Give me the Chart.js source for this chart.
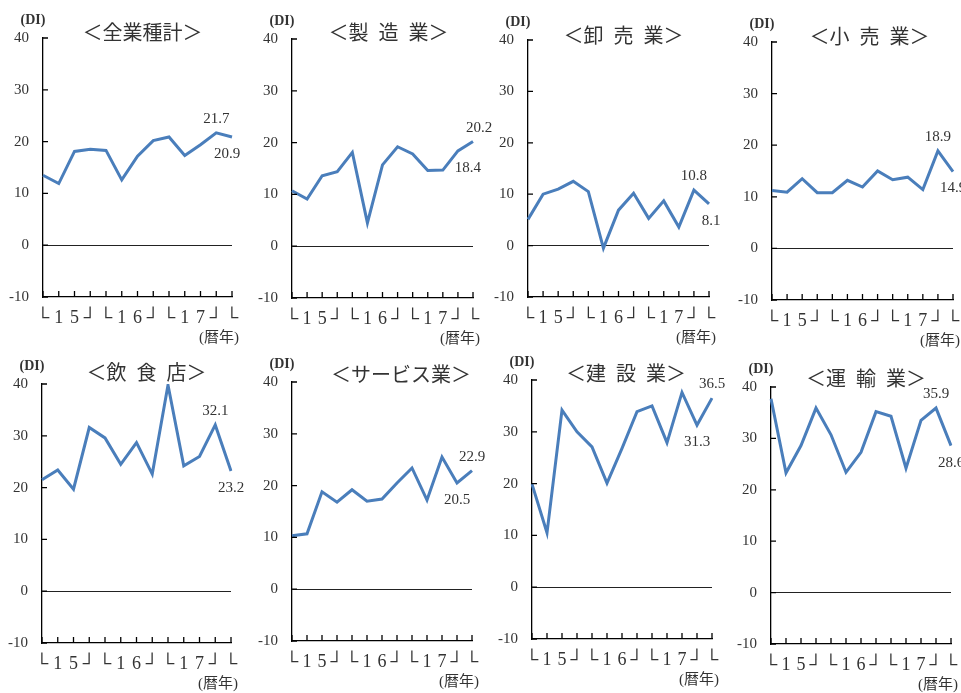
<!DOCTYPE html>
<html lang="ja">
<head>
<meta charset="utf-8">
<title>業種別DI</title>
<script src="https://cdn.jsdelivr.net/npm/chart.js@4"></script>
<style>
  html, body { margin: 0; padding: 0; background: #fff; }
  body { width: 961px; height: 693px; position: relative; overflow: hidden; }
  canvas { position: absolute; }
</style>
</head>
<body>
<script>
// --- data ---
const xLabels = ['└', '1', '5', '┘', '└', '1', '6', '┘', '└', '1', '7', '┘', '└'];
const allIndustries = [13.5, 11.9, 18.1, 18.5, 18.3, 12.6, 17.2, 20.2, 20.9, 17.3, 19.4, 21.7, 20.9];
const manufacturing = [10.7, 9.1, 13.6, 14.4, 18.1, 4.5, 15.7, 19.2, 17.8, 14.6, 14.7, 18.4, 20.2];
const wholesale = [5.1, 10.0, 11.0, 12.5, 10.5, -0.5, 6.9, 10.2, 5.3, 8.7, 3.6, 10.8, 8.1];
const retail = [11.2, 10.9, 13.5, 10.8, 10.8, 13.2, 11.9, 15.0, 13.3, 13.8, 11.4, 18.9, 14.9];
const restaurants = [21.5, 23.4, 19.7, 31.6, 29.6, 24.5, 28.7, 22.6, 39.8, 24.2, 26.0, 32.1, 23.2];
const services = [10.3, 10.7, 18.8, 16.8, 19.2, 17.0, 17.4, 20.5, 23.4, 17.2, 25.5, 20.5, 22.9];
const construction = [19.9, 10.5, 34.2, 30.0, 27.1, 20.1, 26.8, 33.9, 35.0, 27.9, 37.6, 31.3, 36.5];
const transport = [37.7, 23.3, 28.6, 35.9, 30.7, 23.4, 27.3, 35.2, 34.3, 24.2, 33.5, 35.9, 28.6];
const labeledPoints = [11, 12];
const yMin = -10, yMax = 40, yStep = 10;

// --- panel layout (chart area in page pixels) ---
const panels = [
  { title: '＜全業種計＞', values: allIndustries, left: 43, top: 38, right: 232, bottom: 297, tdx: 5, tdy: -6, labelDx: { 12: -5 } },
  { title: '＜製\u2002造\u2002業＞', values: manufacturing, left: 292, top: 39, right: 473, bottom: 298, tdx: 6, tdy: -7, labelDx: { 11: 10, 12: 6 } },
  { title: '＜卸\u2002売\u2002業＞', values: wholesale, left: 528, top: 40, right: 709, bottom: 297, tdx: 5, tdy: -5, labelDx: { 12: 2 } },
  { title: '＜小\u2002売\u2002業＞', values: retail, left: 772, top: 42, right: 953, bottom: 300, tdx: 7, tdy: -6, labelDx: {} },
  { title: '＜飲\u2002食\u2002店＞', values: restaurants, left: 42, top: 384, right: 231, bottom: 643, tdx: 10, tdy: -12, labelDx: {} },
  { title: '＜サービス業＞', values: services, left: 292, top: 382, right: 472, bottom: 641, tdx: 19, tdy: -8, labelDx: {} },
  { title: '＜建\u2002設\u2002業＞', values: construction, left: 532, top: 380, right: 712, bottom: 639, tdx: 4, tdy: -7, labelDx: {} },
  { title: '＜運\u2002輸\u2002業＞', values: transport, left: 771, top: 387, right: 951, bottom: 644, tdx: 5, tdy: -9, labelDx: {} }
];

// inward ticks, titles and value labels
const frame = {
  id: 'frame',
  afterDraw(chart, args, opts) {
    const { ctx, chartArea: area } = chart;
    const x = chart.scales.x, y = chart.scales.y;
    ctx.save();
    ctx.strokeStyle = '#000';
    ctx.lineWidth = 1.3;
    ctx.beginPath();
    y.ticks.forEach((t, i) => {
      const py = y.getPixelForTick(i);
      ctx.moveTo(area.left, py);
      ctx.lineTo(area.left + 5, py);
    });
    x.ticks.forEach((t, i) => {
      const px = x.getPixelForTick(i);
      ctx.moveTo(px, area.bottom);
      ctx.lineTo(px, area.bottom - 6);
    });
    ctx.stroke();

    ctx.fillStyle = '#333';
    ctx.textAlign = 'center';
    ctx.textBaseline = 'middle';
    ctx.font = '20px "Noto Sans CJK JP"';
    ctx.fillText(opts.title, (area.left + area.right) / 2 + opts.tdx, area.top + opts.tdy);
    ctx.font = 'bold 14px "Liberation Serif"';
    ctx.fillText('(DI)', area.left - 10, area.top - 18);
    ctx.font = '15px "Liberation Serif", "Noto Sans CJK JP"';
    ctx.fillText('(暦年)', area.right - 13, area.bottom + 41);

    const data = chart.data.datasets[0].data;
    const meta = chart.getDatasetMeta(0);
    ctx.font = '15px "Liberation Serif"';
    labeledPoints.forEach(i => {
      const other = labeledPoints.find(j => j !== i);
      const above = data[i] >= data[other];
      const pt = meta.data[i];
      const dx = opts.labelDx[i] || 0;
      ctx.fillText(data[i].toFixed(1), pt.x + dx, above ? pt.y - 14 : pt.y + 17);
    });
    ctx.restore();
  }
};

panels.forEach(p => {
  const canvas = document.createElement('canvas');
  const w = p.right - p.left + 85, h = p.bottom - p.top + 105;
  canvas.width = w;
  canvas.height = h;
  canvas.style.width = w + 'px';
  canvas.style.height = h + 'px';
  canvas.style.left = (p.left - 50) + 'px';
  canvas.style.top = (p.top - 50) + 'px';
  document.body.appendChild(canvas);

  new Chart(canvas, {
    type: 'line',
    data: {
      labels: xLabels,
      datasets: [{
        data: p.values,
        borderColor: '#4a7ebb',
        borderWidth: 3,
        pointRadius: 0,
        tension: 0,
        fill: false
      }]
    },
    options: {
      responsive: false,
      animation: false,
      devicePixelRatio: 1,
      layout: { padding: { left: 5, top: 50, right: 35, bottom: 5 } },
      plugins: {
        legend: { display: false },
        tooltip: { enabled: false },
        frame: { title: p.title, tdx: p.tdx, tdy: p.tdy, labelDx: p.labelDx }
      },
      scales: {
        x: {
          grid: { display: false, drawTicks: false },
          border: { color: '#000', width: 1.3 },
          ticks: { color: '#333', font: { family: 'Liberation Serif', size: 18 }, padding: 10, maxRotation: 0, autoSkip: false },
          afterFit: s => { s.height = 50; }
        },
        y: {
          min: yMin,
          max: yMax,
          ticks: { stepSize: yStep, color: '#333', font: { family: 'Liberation Serif', size: 15 }, padding: 14 },
          grid: {
            color: c => (c.tick && c.tick.value === 0) ? '#222' : 'rgba(0,0,0,0)',
            lineWidth: 1,
            drawTicks: false
          },
          border: { color: '#000', width: 1.3 },
          afterFit: s => { s.width = 45; }
        }
      }
    },
    plugins: [frame]
  });
});
</script>
</body>
</html>
